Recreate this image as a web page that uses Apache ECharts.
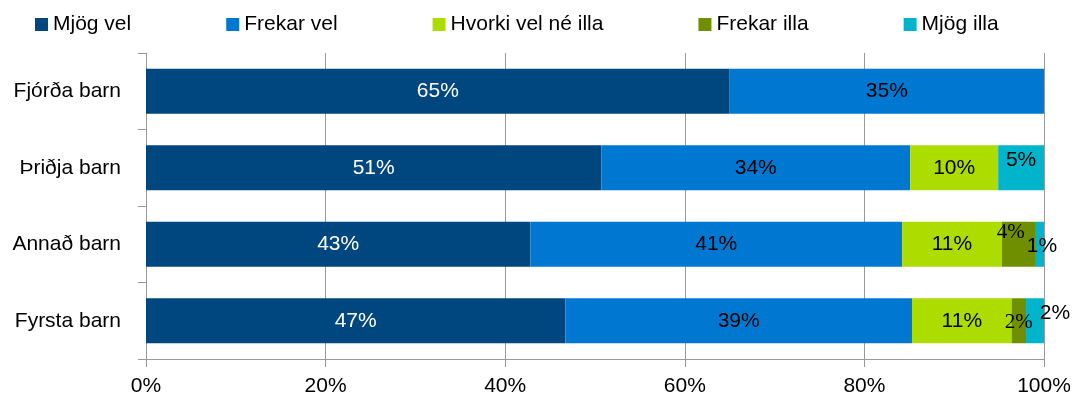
<!DOCTYPE html>
<html>
<head>
<meta charset="utf-8">
<script src="https://cdn.jsdelivr.net/npm/echarts@6/dist/echarts.min.js"></script>
<style>
    html, body { margin: 0; padding: 0; background: #fff; }
    #chart { width: 1077px; height: 405px; }
</style>
</head>
<body>
<div id="chart"></div>
<script>
// flokkar (neðst fyrst, ECharts teiknar fyrsta flokk neðst)
var categories = ['Fyrsta barn', 'Annað barn', 'Þriðja barn', 'Fjórða barn'];
var seriesNames = ['Mjög vel', 'Frekar vel', 'Hvorki vel né illa', 'Frekar illa', 'Mjög illa'];
// hlutföll í %
var mjogVel = [46.7, 42.8, 50.7, 65.0];
var frekarVel = [38.6, 41.4, 34.4, 35.0];
var hvorki = [11.1, 11.1, 9.8, 0];
var frekarIlla = [1.6, 3.8, 0, 0];
var mjogIlla = [2.0, 0.9, 5.1, 0];
var xTicks = [0, 20, 40, 60, 80, 100];

var colors = ['#00467f', '#0078d2', '#addd00', '#6f8f00', '#00b5cb'];
var fontName = '"Liberation Sans", Arial, sans-serif';
var fontSize = 21;

// handfærðir merkimiðar (series index -> category index -> label)
var labelTweaks = {
    3: {
        0: { offset: [0, 2], fontFamily: '"Liberation Serif", serif' },
        1: { offset: [-8, -12], fontFamily: '"Liberation Serif", serif' }
    },
    4: {
        0: { offset: [20, -8] },
        1: { offset: [2, 2] },
        2: { offset: [0, -8] }
    }
};

function buildData(values, sIdx) {
    var out = [];
    for (var i = 0; i < values.length; i++) {
        var item = { value: values[i] };
        if (labelTweaks[sIdx] && labelTweaks[sIdx][i]) {
            item.label = labelTweaks[sIdx][i];
        }
        out.push(item);
    }
    return out;
}

function initChart() {
    var myChart = echarts.init(document.getElementById('chart'));
    var allValues = [mjogVel, frekarVel, hvorki, frekarIlla, mjogIlla];
    var series = [];
    for (var s = 0; s < allValues.length; s++) {
        series.push({
            name: seriesNames[s],
            type: 'bar',
            stack: 'total',
            barWidth: 45,
            itemStyle: { color: colors[s] },
            label: {
                show: true,
                position: 'inside',
                color: s === 0 ? '#ffffff' : '#000000',
                fontFamily: fontName,
                fontSize: fontSize,
                formatter: function (p) {
                    if (!p.value) return '';
                    return Math.round(p.value) + '%';
                }
            },
            data: buildData(allValues[s], s)
        });
    }

    var option = {
        animation: false,
        backgroundColor: '#fff',
        color: colors,
        textStyle: { fontFamily: fontName },
        legend: {
            left: 30,
            top: 9,
            itemWidth: 13,
            itemHeight: 13,
            itemGap: 95,
            icon: 'rect',
            textStyle: { fontFamily: fontName, fontSize: fontSize, color: '#000' },
            data: seriesNames
        },
        grid: {
            left: 146,
            right: 33,
            top: 53,
            bottom: 46,
            outerBoundsMode: 'none'
        },
        xAxis: {
            type: 'value',
            min: xTicks[0],
            max: xTicks[xTicks.length - 1],
            interval: 20,
            axisLine: { show: true, lineStyle: { color: '#999', width: 1 } },
            axisTick: { show: true, length: 8, lineStyle: { color: '#999' } },
            splitLine: { show: true, lineStyle: { color: '#999', width: 1 } },
            axisLabel: {
                margin: 17,
                color: '#000',
                fontFamily: fontName,
                fontSize: fontSize,
                formatter: '{value}%'
            }
        },
        yAxis: {
            type: 'category',
            data: categories,
            axisLine: { show: true, lineStyle: { color: '#999', width: 1 } },
            axisTick: { show: true, length: 8, lineStyle: { color: '#999' } },
            axisLabel: {
                margin: 25,
                color: '#000',
                fontFamily: fontName,
                fontSize: fontSize
            }
        },
        series: series
    };

    myChart.setOption(option);
}

initChart();
</script>
</body>
</html>
